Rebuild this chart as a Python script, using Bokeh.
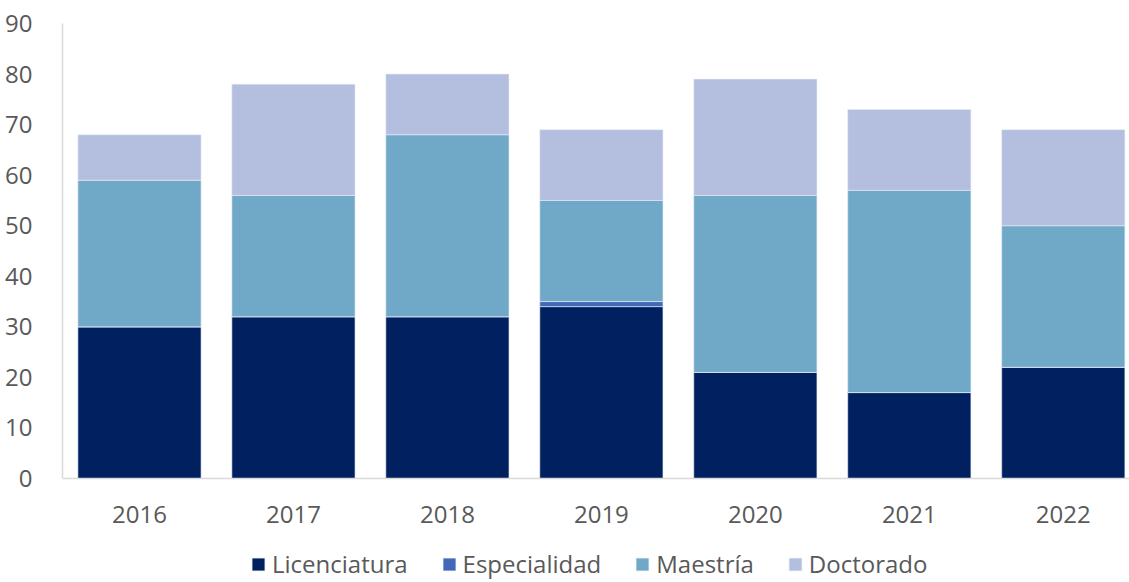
from bokeh.plotting import figure
from bokeh.models import ColumnDataSource, FixedTicker, Range1d, Legend, Span
from bokeh.core.properties import value
from bokeh.embed import file_html
from bokeh.resources import INLINE

years = ["2016", "2017", "2018", "2019", "2020", "2021", "2022"]
licenciatura = [30, 32, 32, 34, 21, 17, 22]
especialidad = [0, 0, 0, 1, 0, 0, 0]
maestria = [29, 24, 36, 20, 35, 40, 28]
doctorado = [9, 22, 12, 14, 23, 16, 19]

series = ["Licenciatura", "Especialidad", "Maestría", "Doctorado"]
colors = ["#002060", "#4169B8", "#70A8C8", "#B4BEDE"]

xs = list(range(len(years)))
source = ColumnDataSource(dict(x=xs, year=years, base=[0] * len(xs),
                               Licenciatura=licenciatura, Especialidad=especialidad,
                               **{"Maestría": maestria}, Doctorado=doctorado))

FONT = "Open Sans"
GREY = "#595959"

# frame spans from y=23 to page bottom; 0..90 occupies 455 px
y_top = 90
y_bottom = -90 * (582 - 478) / 455.0

p = figure(width=1129, height=582, output_backend="svg", toolbar_location=None,
           x_range=Range1d(-0.5, 6.43), y_range=Range1d(y_bottom, y_top),
           min_border_left=62, min_border_right=0, min_border_top=23, min_border_bottom=0)

renderers = p.vbar_stack(series, x="x", width=0.8, source=source, color=colors,
                         line_color="#E8ECF5", line_width=0.6)

p.xgrid.grid_line_color = None
p.ygrid.grid_line_color = None
p.outline_line_color = None
p.xaxis.visible = False

p.yaxis.ticker = FixedTicker(ticks=list(range(0, 91, 10)))
p.yaxis.bounds = (0, 90)
ax = p.yaxis[0]
ax.axis_line_color = "#D9D9D9"
ax.axis_line_width = 1.5
ax.major_tick_line_color = None
ax.minor_tick_line_color = None
ax.major_label_text_font = FONT
ax.major_label_text_font_size = "24px"
ax.major_label_text_color = GREY
ax.major_label_standoff = 24

p.add_layout(Span(location=0, dimension="width", line_color="#D9D9D9", line_width=1.5))

p.text(x="x", y="base", text="year", source=source, y_offset=27,
       text_align="center", text_baseline="top",
       text_font=value(FONT), text_font_size="24px", text_color=GREY)

legend = Legend(items=[(s, [r]) for s, r in zip(series, renderers)],
                orientation="horizontal", location=(188, 2),
                label_text_font=FONT, label_text_font_size="24px", label_text_color=GREY,
                glyph_width=16, glyph_height=16, label_standoff=6, spacing=33,
                label_height=20,
                border_line_color=None, background_fill_alpha=0,
                margin=0, padding=0)
p.add_layout(legend, "center")

open("out.html", "w").write(file_html(p, INLINE))
